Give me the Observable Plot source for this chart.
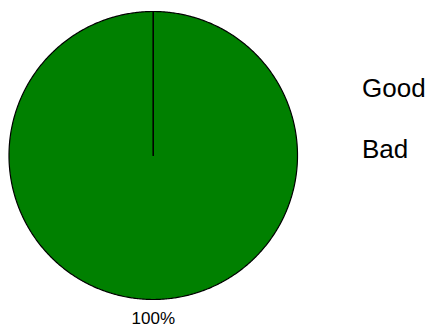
<!DOCTYPE html>
<html>
<head>
<meta charset="utf-8">
<script src="https://cdn.jsdelivr.net/npm/d3@7"></script>
<script src="https://cdn.jsdelivr.net/npm/@observablehq/plot@0.6"></script>
<style>
  html, body { margin: 0; padding: 0; background: #fff; }
  #wrap { position: relative; width: 427px; height: 327px; font-family: "Liberation Sans", Arial, sans-serif; }
  #wrap svg { position: absolute; left: 0; top: 0; }
  #legend { position: absolute; left: 362px; top: 57.5px; font-size: 26px; line-height: 61px; color: #000; }
</style>
</head>
<body>
<div id="wrap"><div id="legend"></div></div>
<script>
const categories = ["Good", "Bad"];
const values = [100, 0];
const colors = ["#008000", "#ff0000"];

const total = d3.sum(values);
const arcs = d3.pie().sort(null).value(d => d.value)(categories.map((c, i) => ({category: c, value: values[i]})));

// Outline polygons for each slice (center -> arc -> center), in unit coordinates
const slicePts = [];
for (const a of arcs) {
  const n = Math.max(1, Math.ceil((a.endAngle - a.startAngle) / (Math.PI / 360)));
  slicePts.push({category: a.data.category, px: 0, py: 0});
  for (let k = 0; k <= n; k++) {
    const t = a.startAngle + (a.endAngle - a.startAngle) * k / n;
    slicePts.push({category: a.data.category, px: Math.sin(t), py: Math.cos(t)});
  }
  slicePts.push({category: a.data.category, px: 0, py: 0});
}

const labelR = 1.13;
const labels = arcs.filter(a => a.data.value > 0).map(a => {
  const m = (a.startAngle + a.endAngle) / 2;
  return {px: labelR * Math.sin(m), py: labelR * Math.cos(m), text: Math.round(a.data.value / total * 100) + "%"};
});

const chart = Plot.plot({
  width: 427,
  height: 327,
  margin: 0,
  x: {domain: [-1, 1], range: [8.5, 297], axis: null},
  y: {domain: [-1, 1], range: [299, 11], axis: null},
  color: {domain: categories, range: colors},
  style: {fontFamily: "'Liberation Sans', Arial, sans-serif", background: "transparent"},
  marks: [
    Plot.line(slicePts, {x: "px", y: "py", z: "category", fill: "category", stroke: "#000", strokeWidth: 1.2, curve: "linear"}),
    Plot.text(labels, {x: "px", y: "py", text: "text", fontSize: 17, fill: "#000", textAnchor: "middle", lineAnchor: "middle"})
  ]
});
const wrap = document.getElementById("wrap");
wrap.insertBefore(chart, wrap.firstChild);

const legend = document.getElementById("legend");
for (const c of categories) {
  const d = document.createElement("div");
  d.textContent = c;
  legend.appendChild(d);
}
</script>
</body>
</html>
